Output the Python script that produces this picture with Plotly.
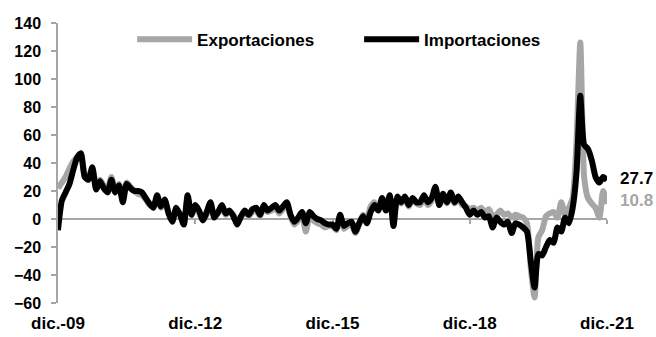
import plotly.graph_objects as go

months = list(range(145))  # month index: 0 = dic.-09 ... 144 = dic.-21

tick_pos = [0, 36, 72, 108, 144]
tick_labels = ["dic.-09", "dic.-12", "dic.-15", "dic.-18", "dic.-21"]

importaciones = [
    -8, 13, 19, 25, 35, 44, 47, 30, 28, 37, 21, 27, 22, 19, 28, 19, 24, 12, 25, 22,
    20, 20, 19, 15, 11, 8, 17, 9, 14, 4, -2, 8, 3, -4, 17, 3, 10, 6, -1, 5,
    12, 1, 5, 10, 4, 6, 2, -4, 2, 6, 3, 7, 8, 3, 10, 6, 8, 10, 6, 9,
    12, 3, -2, 1, 5, -3, 5, 2, 0, -1, -3, -4, -4, -7, 3, -5, -3, -2, -9, -3,
    2, -3, 5, 10, 6, 15, 6, 17, -5, 16, 12, 16, 10, 15, 12, 12, 17, 12, 15, 23,
    10, 18, 12, 19, 12, 16, 12, 8, 3, 6, 3, 5, 1, 2, -6, 1, -2, -4, -2, -10,
    -3, -4, -6, -9, -30, -49, -25, -26, -20, -15, -17, -6, -9, 1, -3, 8, 33, 88, 53, 50,
    42, 30, 26, 30, 27.7,
]

exportaciones = [
    22, 26, 30, 36, 41, 44, 46, 32, 30, 36, 24, 28, 24, 21, 30, 21, 25, 14, 26, 23,
    20, 18, 17, 14, 10, 9, 15, 8, 12, 5, -1, 6, 4, -3, 14, 4, 8, 4, 0, 3,
    10, 2, 4, 8, 3, 5, 3, -2, 1, 5, 2, 5, 6, 2, 8, 5, 6, 8, 4, 7,
    10, 2, -4, -1, 3, -9, 2, -1, -3, -4, -6, -5, -5, -8, 0, -7, -5, -4, -10, -4,
    3, 0, 9, 12, 7, 13, 8, 15, 2, 14, 11, 14, 9, 14, 11, 10, 15, 10, 13, 20,
    10, 16, 11, 17, 11, 14, 10, 9, 7, 8, 6, 8, 5, 7, 2, 3, 6, 3, 4, 1,
    3, 2, 1, -3, -35, -56, -13, -8, 2, 4, 5, 1, 12, 3, 8, 15, 55, 126, 30, 15,
    11, 8, 1, 20, 10.8,
]

GRAY = "#A6A6A6"
FONT = "Liberation Sans, Arial, sans-serif"

fig = go.Figure()
fig.add_trace(go.Scatter(
    x=months, y=exportaciones, name="Exportaciones", mode="lines",
    line=dict(color=GRAY, width=6, shape="spline", smoothing=0.6),
    xaxis="x", yaxis="y",
))
fig.add_trace(go.Scatter(
    x=months, y=importaciones, name="Importaciones", mode="lines",
    line=dict(color="#000000", width=6, shape="spline", smoothing=0.6),
    xaxis="x2", yaxis="y",
))

fig.add_annotation(x=months[-1], y=importaciones[-1], xref="x", yref="y",
                   text=f"{importaciones[-1]:.1f}", showarrow=False,
                   xanchor="left", xshift=11, yshift=2,
                   font=dict(family=FONT, size=17, color="#000000", weight="bold"))
fig.add_annotation(x=months[-1], y=exportaciones[-1], xref="x", yref="y",
                   text=f"{exportaciones[-1]:.1f}", showarrow=False,
                   xanchor="left", xshift=11, yshift=3,
                   font=dict(family=FONT, size=17, color=GRAY, weight="bold"))

fig.update_layout(
    width=656, height=337,
    margin=dict(l=58, r=49, t=23, b=34, autoexpand=False),
    paper_bgcolor="white", plot_bgcolor="white",
    font=dict(family=FONT, size=17, color="#000000", weight="bold"),
    showlegend=True,
    legend=dict(orientation="h", xref="paper", yref="paper",
                x=0.135, y=0.94, xanchor="left", yanchor="middle",
                itemwidth=55, entrywidth=157, entrywidthmode="pixels",
                font=dict(family=FONT, size=17, color="#000000", weight="bold"),
                bgcolor="rgba(0,0,0,0)", tracegroupgap=0),
    xaxis=dict(range=[0, 144], tickvals=tick_pos, ticktext=tick_labels,
               showline=False, ticks="", showgrid=False, zeroline=False,
               ticklabelstandoff=8, automargin=False,
               tickfont=dict(family=FONT, size=17, color="#000000", weight="bold")),
    xaxis2=dict(range=[0, 144], overlaying="x", anchor="free", position=0.3,
                tickvals=tick_pos, showticklabels=False, showline=True,
                linecolor=GRAY, linewidth=1.5, ticks="outside", ticklen=4,
                tickcolor=GRAY, tickwidth=1.5, showgrid=False, zeroline=False,
                layer="below traces"),
    yaxis=dict(range=[-60, 140], dtick=20, tick0=0, showline=True,
               linecolor=GRAY, linewidth=1.5, ticks="outside", ticklen=5,
               tickcolor=GRAY, tickwidth=1.5, showgrid=False, zeroline=False,
               ticklabelstandoff=7, automargin=False,
               tickfont=dict(family=FONT, size=16, color="#000000", weight="bold")),
)

fig.write_html(
    "out.html",
    config={"displayModeBar": False},
    post_script="document.body.style.margin='0';document.body.style.overflow='hidden';",
)
